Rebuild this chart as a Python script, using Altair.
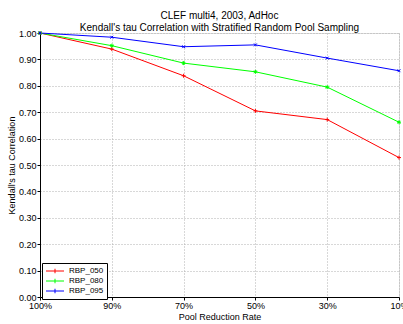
import altair as alt
import pandas as pd

rates = ["100%", "90%", "70%", "50%", "30%", "10%"]
rbp_050 = [1.00, 0.939, 0.838, 0.705, 0.672, 0.528]
rbp_080 = [1.00, 0.952, 0.886, 0.853, 0.795, 0.662]
rbp_095 = [1.00, 0.984, 0.948, 0.955, 0.905, 0.857]
series = ["RBP_050", "RBP_080", "RBP_095"]
colors = ["#ff0000", "#00ff00", "#0000ff"]
markers = [
    "M-1,0L1,0M0,-1L0,1",
    "M-1,0L1,0M0,-1L0,1M-0.7,-0.7L0.7,0.7M-0.7,0.7L0.7,-0.7",
    "M-0.7,-0.7L0.7,0.7M-0.7,0.7L0.7,-0.7",
]

rows = []
for name, vals in zip(series, [rbp_050, rbp_080, rbp_095]):
    for r, v in zip(rates, vals):
        rows.append({"rate": r, "tau": v, "series": name})
df = pd.DataFrame(rows)

FONT = "Liberation Sans"

x = alt.X("rate:O", sort=rates, scale=alt.Scale(type="point", padding=0),
          axis=alt.Axis(title="Pool Reduction Rate", labelAngle=0, grid=True,
                        gridDash=[1, 2], gridColor="#b0b0b0", tickSize=3,
                        domainColor="#000", tickColor="#000", labelPadding=1,
                        titlePadding=2, labelFontSize=9, titleFontSize=9))
y = alt.Y("tau:Q", scale=alt.Scale(domain=[0, 1], nice=False),
          axis=alt.Axis(title="Kendall's tau Correlation", format=".2f",
                        values=[i / 10 for i in range(11)], grid=True,
                        gridDash=[1, 2], gridColor="#b0b0b0", tickSize=3,
                        domainColor="#000", tickColor="#000", labelPadding=1,
                        titlePadding=2, labelFontSize=9, titleFontSize=9))
color = alt.Color("series:N", scale=alt.Scale(domain=series, range=colors),
                  legend=alt.Legend(title=None, orient="none", legendX=2, legendY=230,
                                    strokeColor="#000", fillColor="#fff", padding=3,
                                    symbolType="M-2,0L2,0M0,-0.5L0,0.5",
                                    symbolSize=81, symbolStrokeWidth=1,
                                    symbolOffset=5,
                                    labelFontSize=8, rowPadding=0, labelOffset=9))
color_nolegend = alt.Color("series:N", scale=alt.Scale(domain=series, range=colors),
                           legend=None)
shape = alt.Shape("series:N", scale=alt.Scale(domain=series, range=markers),
                  legend=None)

base = alt.Chart(df)
lines = base.mark_line(strokeWidth=1).encode(x=x, y=y, color=color)
pts = base.mark_point(size=16, filled=False, strokeWidth=1, opacity=1).encode(
    x=x, y=y, color=color_nolegend, shape=shape)

chart = alt.layer(lines, pts).resolve_legend(color="independent").properties(
    width=359, height=264,
    padding={"left": 40, "top": 33, "right": 4, "bottom": 27},
    autosize=alt.AutoSizeParams(type="none"),
    title=alt.TitleParams(
        text=["CLEF multi4, 2003, AdHoc",
              "Kendall's tau Correlation with Stratified Random Pool Sampling"],
        fontSize=10, fontWeight="normal", font=FONT, anchor="middle", offset=0,
        dy=4, lineHeight=12),
).configure_view(stroke=None).configure(font=FONT).configure_axis(
    labelFont=FONT, titleFont=FONT, titleFontWeight="normal"
).configure_legend(labelFont=FONT)

chart.save("out.html", embed_options={"renderer": "svg", "actions": False})
